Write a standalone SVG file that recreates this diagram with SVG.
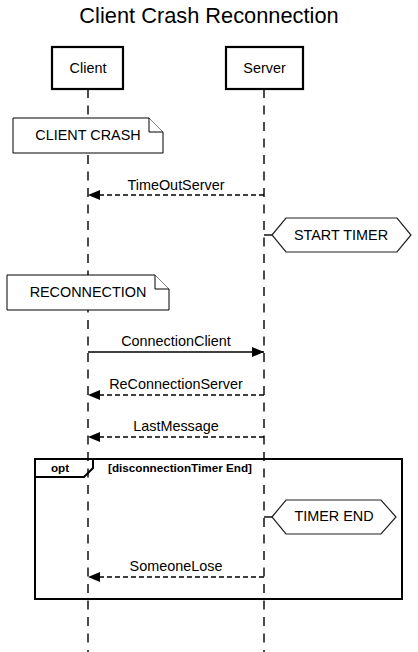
<svg xmlns="http://www.w3.org/2000/svg" width="418" height="652" viewBox="0 0 418 652">
<defs>
<style>
text{font-family:"Liberation Sans",Arial,sans-serif;fill:#000}
.t{font-size:14.4px;text-anchor:middle}
.title{font-size:21.8px;text-anchor:middle}
.actor{fill:#fff;stroke:#000;stroke-width:2.2}
.life{stroke:#000;stroke-width:1.4;stroke-dasharray:9,7.5;fill:none}
.note{fill:#fff;stroke:#000;stroke-width:1}
.hex{fill:#fff;stroke:#222;stroke-width:1.2}
.msg{stroke:#000;stroke-width:1.4;fill:none}
.dash{stroke-dasharray:5,3}
.frame{fill:none;stroke:#000;stroke-width:2}
.b{font-size:11.7px;font-weight:bold}
</style>
<marker id="ah" viewBox="0 0 12 10" refX="12" refY="5" markerWidth="12" markerHeight="10" markerUnits="userSpaceOnUse" orient="auto">
<path d="M0,0 L12,5 L0,10 Z" fill="#000"/>
</marker>
</defs>
<rect width="418" height="652" fill="#fff"/>
<text class="title" x="209" y="23">Client Crash Reconnection</text>
<g id="lifelines">
<line class="life" x1="88" y1="89" x2="88" y2="652"/>
<line class="life" x1="264" y1="89" x2="264" y2="652"/>
</g>
<g id="actor-client">
<rect class="actor" x="52" y="47" width="71" height="42"/>
<text class="t" x="88" y="73">Client</text>
</g>
<g id="actor-server">
<rect class="actor" x="226" y="47" width="77" height="42"/>
<text class="t" x="264.5" y="73">Server</text>
</g>
<g id="note-client-crash">
<path class="note" d="M13,118 H149 L163,132 V153 H13 Z"/>
<path class="note" d="M149,118 V132 H163" fill="none"/>
<text class="t" x="88" y="140">CLIENT CRASH</text>
</g>
<g id="state-start-timer">
<line class="msg" x1="264" y1="235" x2="272" y2="235"/>
<polygon class="hex" points="272,235 286,218 397,218 411,235 397,252 286,252"/>
<text class="t" x="341" y="239.5">START TIMER</text>
</g>
<g id="note-reconnection">
<path class="note" d="M7,275 H155 L169,289 V310 H7 Z"/>
<path class="note" d="M155,275 V289 H169" fill="none"/>
<text class="t" x="88" y="297">RECONNECTION</text>
</g>
<g id="opt-frame">
<rect class="frame" x="35" y="459" width="367" height="140"/>
<path class="frame" d="M35,459 H93 V468 L84,477 H35"/>
<text class="b" x="60" y="472" text-anchor="middle">opt</text>
<text class="b" x="108" y="472">[disconnectionTimer End]</text>
</g>
<g id="state-timer-end">
<line class="msg" x1="264" y1="517" x2="272" y2="517"/>
<polygon class="hex" points="272,517 286,500 381,500 396,517 381,534 286,534"/>
<text class="t" x="334" y="521">TIMER END</text>
</g>
<g id="connectors">
<line class="msg dash" x1="264" y1="195" x2="88" y2="195" marker-end="url(#ah)"/>
<text class="t" x="176" y="190">TimeOutServer</text>
<line class="msg" x1="88" y1="352" x2="264" y2="352" marker-end="url(#ah)"/>
<text class="t" x="176" y="346">ConnectionClient</text>
<line class="msg dash" x1="264" y1="395" x2="88" y2="395" marker-end="url(#ah)"/>
<text class="t" x="176" y="389">ReConnectionServer</text>
<line class="msg dash" x1="264" y1="437" x2="88" y2="437" marker-end="url(#ah)"/>
<text class="t" x="176" y="431">LastMessage</text>
<line class="msg dash" x1="264" y1="577" x2="88" y2="577" marker-end="url(#ah)"/>
<text class="t" x="176" y="571">SomeoneLose</text>
</g>
</svg>
